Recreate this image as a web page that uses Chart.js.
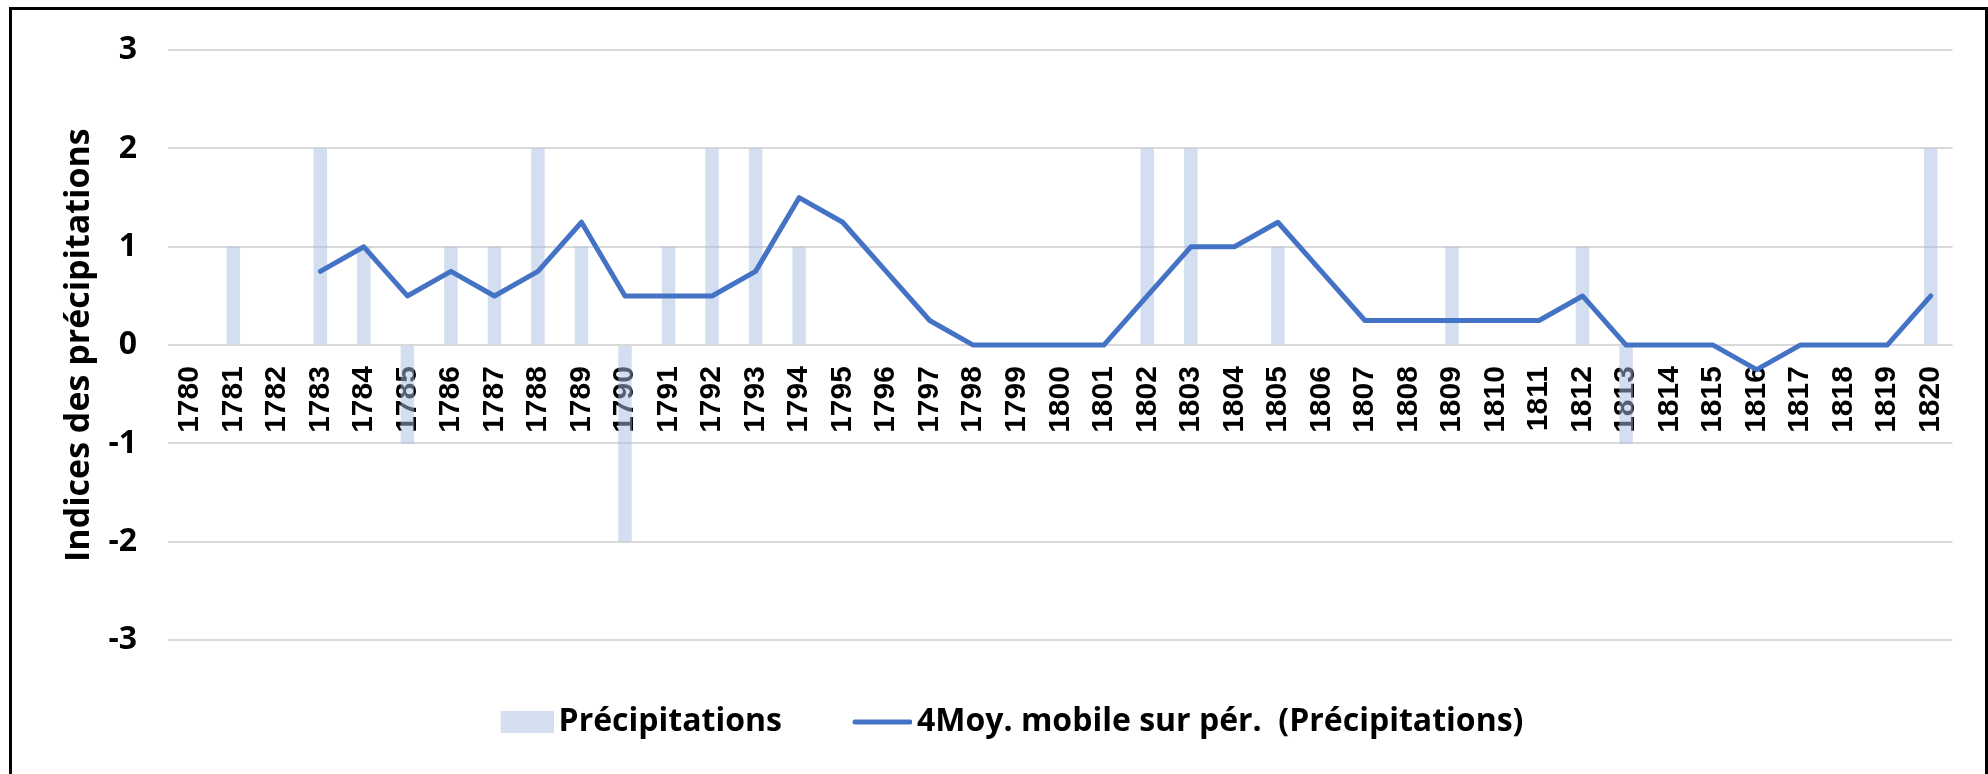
<!DOCTYPE html>
<html>
<head>
<meta charset="utf-8">
<script src="https://cdn.jsdelivr.net/npm/chart.js@4"></script>
<style>
  body { margin: 0; background: #fff; }
  #zone { position: relative; width: 1988px; height: 774px; overflow: hidden; }
  #cadre { position: absolute; left: 9px; top: 7px; width: 1979px; height: 820px;
           border: 3px solid #000; border-bottom: none; box-sizing: border-box; pointer-events: none; }
</style>
</head>
<body>
<div id="zone">
  <canvas id="graphique" width="1988" height="774"></canvas>
  <div id="cadre"></div>
</div>
<script>
// années (catégories de l'axe x)
const annees = ['1780','1781','1782','1783','1784','1785','1786','1787','1788','1789',
  '1790','1791','1792','1793','1794','1795','1796','1797','1798','1799',
  '1800','1801','1802','1803','1804','1805','1806','1807','1808','1809',
  '1810','1811','1812','1813','1814','1815','1816','1817','1818','1819','1820'];

// indices des précipitations (barres)
const precipitations = [0, 1, 0, 2, 1, -1, 1, 1, 2, 1,
  -2, 1, 2, 2, 1, 0, 0, 0, 0, 0,
  0, 0, 2, 2, 0, 1, 0, 0, 0, 1,
  0, 0, 1, -1, 0, 0, 0, 0, 0, 0, 2];

// moyenne mobile sur 4 périodes (courbe)
const moyenneMobile = [null, null, null, 0.75, 1, 0.5, 0.75, 0.5, 0.75, 1.25,
  0.5, 0.5, 0.5, 0.75, 1.5, 1.25, 0.75, 0.25, 0, 0,
  0, 0, 0.5, 1, 1, 1.25, 0.75, 0.25, 0.25, 0.25,
  0.25, 0.25, 0.5, 0, 0, 0, -0.25, 0, 0, 0, 0.5];

const nomsSeries = ['Précipitations', '4Moy. mobile sur pér.  (Précipitations)'];
const graduationsY = [-3, -2, -1, 0, 1, 2, 3];

// petites vignettes pour la légende
const creerVignette = (dessin) => {
    const c = document.createElement('canvas');
    c.width = 75;
    c.height = 22;
    dessin(c.getContext('2d'));
    return c;
};
const vignetteBarre = creerVignette((ctx) => {
    ctx.fillStyle = '#d4dff1';
    ctx.fillRect(22, 0, 53, 22);
});
const vignetteLigne = creerVignette((ctx) => {
    ctx.strokeStyle = '#4472c4';
    ctx.lineWidth = 5;
    ctx.lineCap = 'round';
    ctx.beginPath();
    ctx.moveTo(18, 11);
    ctx.lineTo(73, 11);
    ctx.stroke();
});

const ctx = document.getElementById('graphique').getContext('2d');

const graphique = new Chart(ctx, {
    type: 'bar',
    data: {
        labels: annees,
        datasets: [{
            type: 'bar',
            label: nomsSeries[0],
            data: precipitations,
            backgroundColor: 'rgba(168, 191, 228, 0.5)',
            borderWidth: 0,
            categoryPercentage: 0.31,
            barPercentage: 1,
            order: 1
        }, {
            type: 'line',
            label: nomsSeries[1],
            data: moyenneMobile,
            borderColor: '#4472c4',
            backgroundColor: '#4472c4',
            borderWidth: 5,
            pointRadius: 0,
            tension: 0,
            borderJoinStyle: 'round',
            borderCapStyle: 'round',
            order: 0
        }]
    },
    options: {
        responsive: false,
        animation: false,
        layout: { padding: { left: 45, right: 20, top: 44, bottom: 26 } },
        plugins: {
            tooltip: { enabled: false },
            legend: {
                position: 'bottom',
                labels: {
                    usePointStyle: true,
                    pointStyleWidth: 53,
                    padding: 66,
                    color: '#000',
                    font: { family: "'Open Sans', sans-serif", weight: 'bold', size: 32 },
                    sort: (a, b) => a.datasetIndex - b.datasetIndex,
                    generateLabels: (chart) => {
                        const items = Chart.defaults.plugins.legend.labels.generateLabels(chart);
                        items.forEach(it => {
                            it.pointStyle = it.datasetIndex === 0 ? vignetteBarre : vignetteLigne;
                        });
                        return items;
                    }
                }
            }
        },
        scales: {
            x: {
                position: { y: 0 },
                offset: true,
                grid: { display: false, drawTicks: false },
                border: { display: false },
                ticks: {
                    autoSkip: false,
                    minRotation: 90,
                    maxRotation: 90,
                    padding: 21,
                    color: '#000',
                    font: { family: "'Liberation Sans', Arial, sans-serif", weight: 'bold', size: 30 }
                },
                afterFit: (scale) => { scale.height = 0; }
            },
            y: {
                min: -3,
                max: 3,
                grid: { color: '#d9d9d9', lineWidth: 2, drawTicks: false },
                border: { display: false },
                afterBuildTicks: (scale) => { scale.ticks = graduationsY.map(v => ({ value: v })); },
                ticks: {
                    padding: 31,
                    color: '#000',
                    font: { family: "'Open Sans', sans-serif", weight: 'bold', size: 32 }
                },
                title: {
                    display: true,
                    text: 'Indices des précipitations',
                    color: '#000',
                    padding: { top: 14, bottom: 0 },
                    font: { family: "'Open Sans', sans-serif", weight: 'bold', size: 34 }
                },
                afterFit: (scale) => { scale.width = 123; }
            }
        }
    }
});
</script>
</body>
</html>
